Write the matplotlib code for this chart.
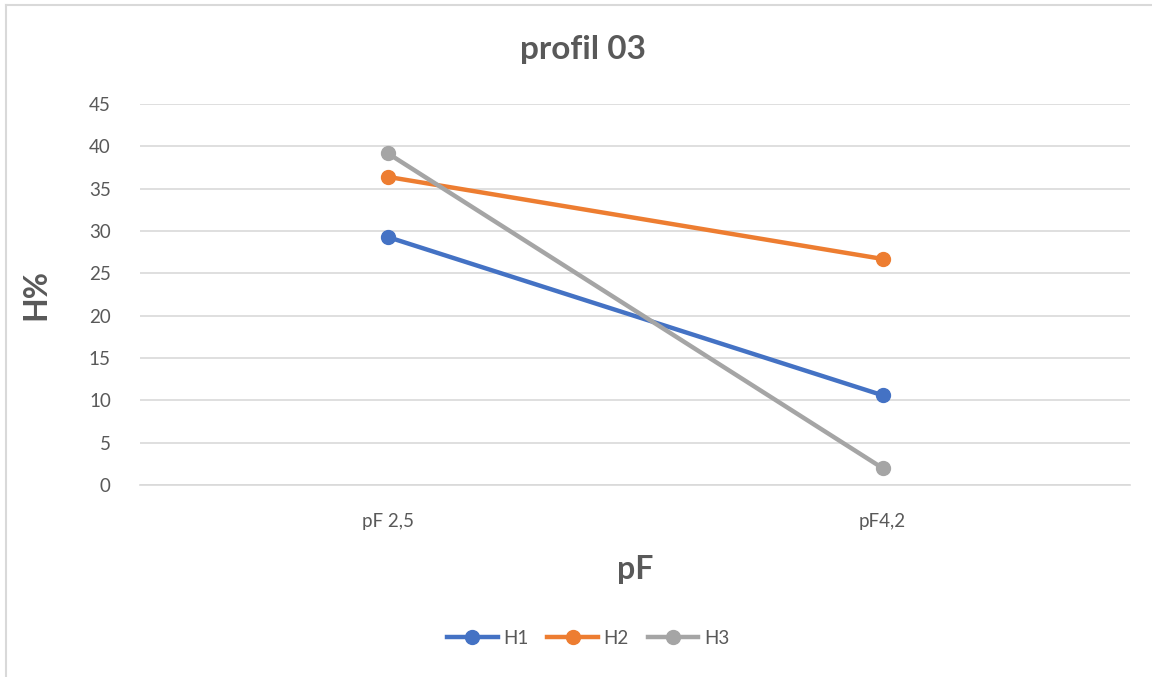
import matplotlib.pyplot as plt
from matplotlib.lines import Line2D

plt.rcParams["font.family"] = ["Lato", "DejaVu Sans"]

# Data
categories = ["pF 2,5", "pF4,2"]
series_names = ["H1", "H2", "H3"]
h1 = [29.3, 10.6]
h2 = [36.4, 26.7]
h3 = [39.2, 2.0]
y_ticks = [0, 5, 10, 15, 20, 25, 30, 35, 40, 45]

colors = ["#4472C4", "#ED7D31", "#A5A5A5"]
text_col = "#595959"

fig = plt.figure(figsize=(11.52, 6.77), dpi=100)
ax = fig.add_axes([140 / 1152, 1 - 485 / 677, 990 / 1152, 381 / 677])

x = list(range(len(categories)))
for vals, name, c in zip([h1, h2, h3], series_names, colors):
    ax.plot(x, vals, color=c, lw=3.2, marker="o", ms=10, label=name,
            solid_capstyle="round", zorder=3)

ax.set_xlim(-0.5, 1.5)
ax.set_ylim(0, 45)
ax.set_yticks(y_ticks)
ax.set_xticks(x)
ax.set_xticklabels(categories)
ax.grid(axis="y", color="#D9D9D9", lw=1.2)
ax.set_axisbelow(True)
for s in ["top", "right", "left"]:
    ax.spines[s].set_visible(False)
ax.spines["bottom"].set_color("#D9D9D9")
ax.spines["bottom"].set_linewidth(1.2)
ax.tick_params(axis="both", length=0, labelsize=13.5, labelcolor=text_col)
ax.tick_params(axis="y", pad=21)
ax.tick_params(axis="x", pad=20)

fig.text(583 / 1152, 1 - 50 / 677, "profil 03", fontsize=24, fontweight="bold",
         color=text_col, ha="center", va="center")
ax.set_ylabel("H%", fontsize=23, fontweight="bold", color=text_col, labelpad=28)
ax.set_xlabel("pF", fontsize=23, fontweight="bold", color=text_col, labelpad=18)

handles = [Line2D([0], [0], color=c, lw=3.2, marker="o", ms=10) for c in colors]
fig.legend(handles, series_names, loc="center", bbox_to_anchor=(588 / 1152, 1 - 638 / 677),
           ncol=3, frameon=False, fontsize=13.5, labelcolor=text_col,
           handlelength=2.7, handletextpad=0.3, columnspacing=1.0)

# chart frame (top and left edges visible)
fig.add_artist(Line2D([6 / 1152, 1], [1 - 5 / 677, 1 - 5 / 677], color="#D9D9D9", lw=1.5))
fig.add_artist(Line2D([6 / 1152, 6 / 1152], [0, 1 - 5 / 677], color="#D9D9D9", lw=1.5))

fig.savefig("out.png", dpi=100)
